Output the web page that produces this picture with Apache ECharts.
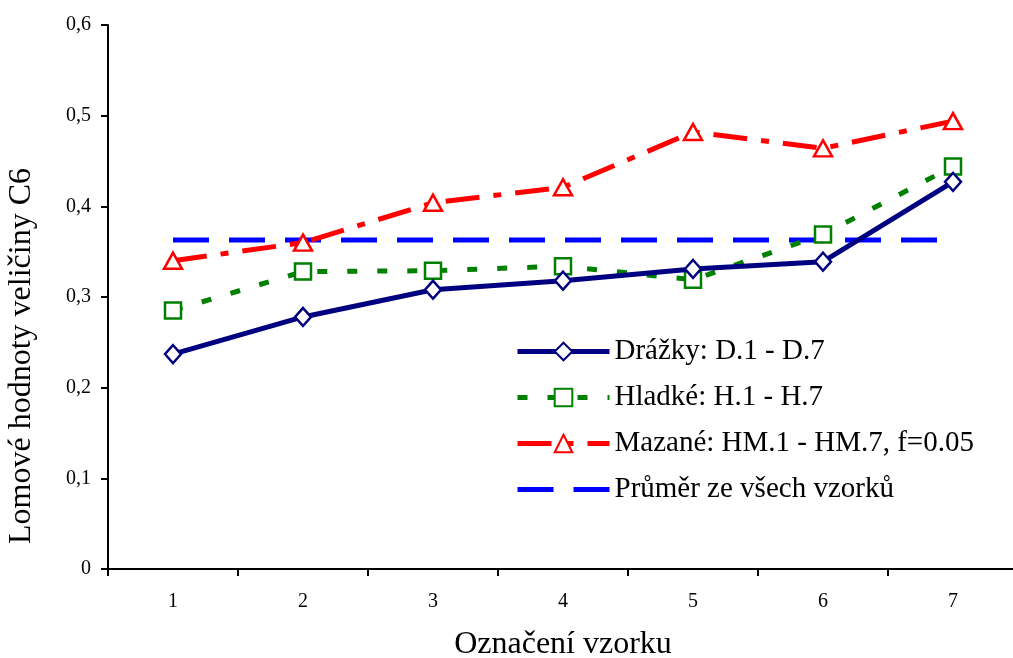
<!DOCTYPE html>
<html>
<head>
<meta charset="utf-8">
<script src="https://cdn.jsdelivr.net/npm/echarts@6/dist/echarts.min.js"></script>
<style>
  html, body { margin: 0; padding: 0; background: #fff; }
  #chart { width: 1013px; height: 658px; }
</style>
</head>
<body>
<div id="chart"></div>
<script>
var categories = ['1', '2', '3', '4', '5', '6', '7'];
var yTickLabels = ['0', '0,1', '0,2', '0,3', '0,4', '0,5', '0,6'];

var drazky = [0.237, 0.278, 0.308, 0.318, 0.331, 0.339, 0.427];
var hladke = [0.285, 0.328, 0.329, 0.334, 0.319, 0.369, 0.444];
var mazane = [0.340, 0.360, 0.404, 0.421, 0.482, 0.464, 0.494];
var prumer = [0.363, 0.363, 0.363, 0.363, 0.363, 0.363, 0.363];

var font = 'Liberation Serif, Times New Roman, serif';
var chart = echarts.init(document.getElementById('chart'));

var option = {
  animation: false,
  textStyle: { fontFamily: font, color: '#000' },
  grid: { left: 108, right: -5, top: 25, bottom: 89, outerBoundsMode: 'none', containLabel: false },
  legend: {
    left: 515,
    top: 337,
    padding: 0,
    orient: 'vertical',
    itemWidth: 92,
    itemHeight: 22,
    itemGap: 17,
    textStyle: { fontFamily: font, fontSize: 29, color: '#000', lineHeight: 28 },
    data: [
      { name: 'Drážky: D.1 - D.7', lineStyle: { width: 5 } },
      { name: 'Hladké: H.1 - H.7', lineStyle: { width: 5 } },
      { name: 'Mazané: HM.1 - HM.7, f=0.05', lineStyle: { width: 5 } },
      { name: 'Průměr ze všech vzorků', lineStyle: { width: 5 }, itemStyle: { opacity: 0 } }
    ]
  },
  xAxis: {
    type: 'category',
    data: categories,
    boundaryGap: true,
    name: 'Označení vzorku',
    nameLocation: 'middle',
    nameGap: 60,
    nameTextStyle: { fontFamily: font, fontSize: 32, color: '#000' },
    axisLine: { lineStyle: { color: '#000', width: 2 } },
    axisTick: { show: true, length: 7, lineStyle: { color: '#000', width: 2 } },
    axisLabel: { fontFamily: font, fontSize: 20, color: '#000', margin: 23 },
    splitLine: { show: false }
  },
  yAxis: {
    type: 'value',
    min: 0,
    max: 0.6,
    interval: 0.1,
    name: 'Lomové hodnoty veličiny C6',
    nameLocation: 'middle',
    nameGap: 70,
    nameTextStyle: { fontFamily: font, fontSize: 32, color: '#000', padding: [0, 118, 0, 0] },
    axisLine: { show: true, lineStyle: { color: '#000', width: 2 } },
    axisTick: { show: true, length: 7, lineStyle: { color: '#000', width: 2 } },
    axisLabel: {
      fontFamily: font, fontSize: 20, color: '#000', margin: 17,
      formatter: function (v) { return yTickLabels[Math.round(v * 10)]; }
    },
    splitLine: { show: false }
  },
  series: [
    {
      name: 'Drážky: D.1 - D.7',
      type: 'line',
      data: drazky,
      z: 4,
      symbol: 'diamond',
      symbolSize: [16, 18],
      itemStyle: { color: '#fff', borderColor: '#000080', borderWidth: 2.5 },
      lineStyle: { color: '#000080', width: 5, type: 'solid' }
    },
    {
      name: 'Hladké: H.1 - H.7',
      type: 'line',
      data: hladke,
      z: 3,
      symbol: 'rect',
      symbolSize: 16,
      itemStyle: { color: '#fff', borderColor: '#008000', borderWidth: 2.5 },
      lineStyle: { color: '#008000', width: 5, type: [10, 20] }
    },
    {
      name: 'Mazané: HM.1 - HM.7, f=0.05',
      type: 'line',
      data: mazane,
      z: 3,
      symbol: 'triangle',
      symbolSize: [18, 16],
      itemStyle: { color: '#fff', borderColor: '#ff0000', borderWidth: 2.5 },
      lineStyle: { color: '#ff0000', width: 5, type: [34, 14, 8, 14] }
    },
    {
      name: 'Průměr ze všech vzorků',
      type: 'line',
      data: prumer,
      z: 2,
      symbol: 'none',
      itemStyle: { color: '#0000ff' },
      lineStyle: { color: '#0000ff', width: 5, type: [36, 20] }
    }
  ]
};

chart.setOption(option);
window.addEventListener('resize', function () {
  chart.resize();
});
</script>
</body>
</html>
